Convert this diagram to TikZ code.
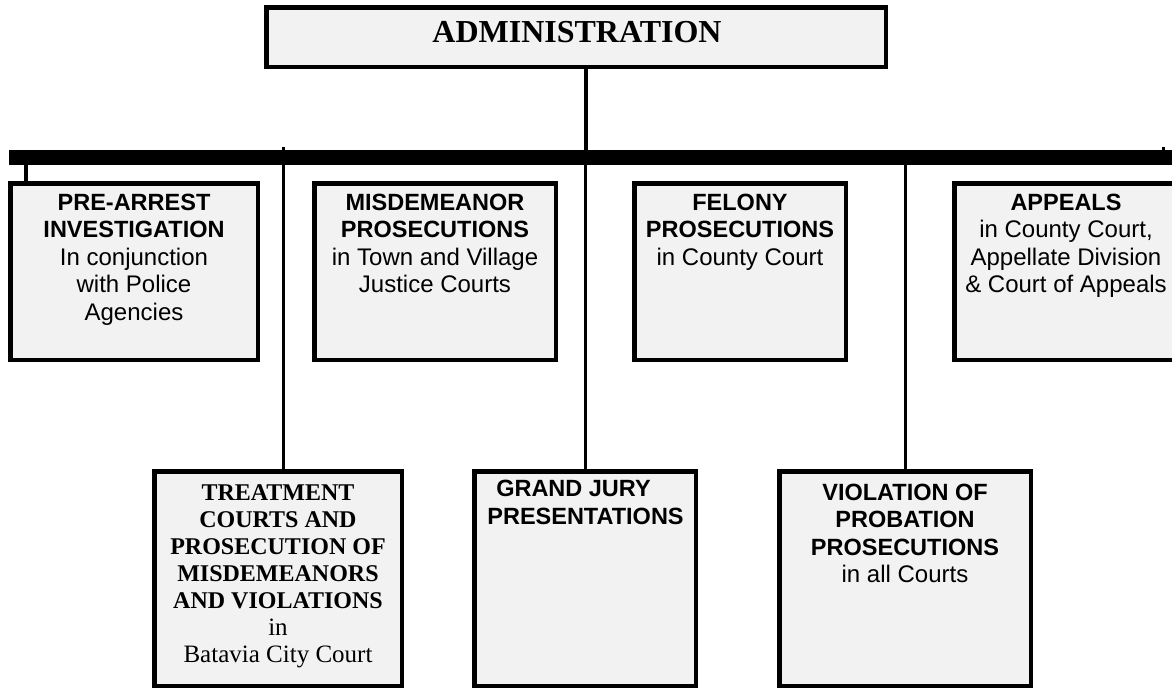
\documentclass[tikz,border=0pt]{standalone}
\usepackage{fontspec}
\setmainfont{Liberation Serif}
\setsansfont{Liberation Sans}
\definecolor{boxgray}{HTML}{F2F2F2}
\begin{document}
\begin{tikzpicture}[x=1pt,y=-1pt,
  box/.style={draw=black,line width=4.5pt,fill=boxgray,rectangle,inner sep=0pt,outer sep=0pt},
  sfb/.style={font=\sffamily\bfseries\fontsize{23.5}{27}\selectfont,anchor=base,inner sep=0pt},
  sfr/.style={font=\sffamily\fontsize{24}{27}\selectfont,anchor=base,inner sep=0pt},
  rmb/.style={font=\rmfamily\bfseries\fontsize{24}{27}\selectfont,anchor=base,inner sep=0pt},
  rmr/.style={font=\rmfamily\fontsize{25}{27}\selectfont,anchor=base,inner sep=0pt},
  conn/.style={line width=3pt},
  thick conn/.style={line width=4.5pt}]
\useasboundingbox (0,0) rectangle (1172,688);
\clip (0,0) rectangle (1172,688);
% boxes
\node[box,minimum width=619.5pt,minimum height=59.5pt] (admin) at (576,37) {};
\node[fill=black,inner sep=0pt,outer sep=0pt,minimum width=1171pt,minimum height=15pt] (bus) at (594.5,157.5) {};
\node[box,minimum width=247.5pt,minimum height=176.5pt] (pre) at (134,271.5) {};
\node[box,minimum width=241.5pt,minimum height=176.5pt] (mis) at (435,271.5) {};
\node[box,minimum width=211.5pt,minimum height=176.5pt] (fel) at (740,271.5) {};
\node[box,minimum width=223.5pt,minimum height=176.5pt] (app) at (1066,271.5) {};
\node[box,minimum width=247.5pt,minimum height=214.5pt] (tre) at (278,578.5) {};
\node[box,minimum width=221.5pt,minimum height=214.5pt] (gj) at (585,578.5) {};
\node[box,minimum width=251.5pt,minimum height=214.5pt] (vio) at (905,578.5) {};
% connector end points
\coordinate (admout) at (586,69);
\coordinate (prein) at (26,181);
\coordinate (ttop) at (283,147);
\coordinate (tin) at (283,469);
\coordinate (stub) at (1163,147);
% connectors
\draw[thick conn] (admout) -- (admout |- bus.north);
\draw[thick conn] (prein) -- (prein |- bus.south);
\draw[conn] (ttop) -- (tin);
\draw[conn] (gj.north |- bus.south) -- (gj.north);
\draw[conn] (vio.north |- bus.south) -- (vio.north);
\draw[conn] (stub) -- (stub |- bus.north);
% texts
\node[font=\rmfamily\bfseries\fontsize{32}{36}\selectfont,anchor=base,inner sep=0pt] (tadm) at (577,42.5) {ADMINISTRATION};
\node[sfb] (p1) at (134,210) {PRE-ARREST};
\node[sfb] (p2) at (134,237.5) {INVESTIGATION};
\node[sfr] (p3) at (134,265) {In conjunction};
\node[sfr] (p4) at (134,292.5) {with Police};
\node[sfr] (p5) at (134,320) {Agencies};
\node[sfb] (m1) at (435,210) {MISDEMEANOR};
\node[sfb] (m2) at (435,237.5) {PROSECUTIONS};
\node[sfr] (m3) at (435,265) {in Town and Village};
\node[sfr] (m4) at (435,292.5) {Justice Courts};
\node[sfb] (f1) at (740,210) {FELONY};
\node[sfb] (f2) at (740,237.5) {PROSECUTIONS};
\node[sfr] (f3) at (740,265) {in County Court};
\node[sfb] (a1) at (1066,210) {APPEALS};
\node[sfr] (a2) at (1066,237.5) {in County Court,};
\node[sfr] (a3) at (1066,265) {Appellate Division};
\node[sfr] (a4) at (1066,292.5) {\& Court of Appeals};
\node[rmb] (r1) at (278,500) {TREATMENT};
\node[rmb] (r2) at (278,527) {COURTS AND};
\node[rmb] (r3) at (278,554) {PROSECUTION OF};
\node[rmb] (r4) at (278,581) {MISDEMEANORS};
\node[rmb] (r5) at (278,608) {AND VIOLATIONS};
\node[rmr] (r6) at (278,635) {in};
\node[rmr] (r7) at (278,662) {Batavia City Court};
\node[sfb] (g1) at (573.5,496) {GRAND JURY};
\node[sfb] (g2) at (585.5,524) {PRESENTATIONS};
\node[sfb] (v1) at (905,500) {VIOLATION OF};
\node[sfb] (v2) at (905,527.5) {PROBATION};
\node[sfb] (v3) at (905,555) {PROSECUTIONS};
\node[sfr] (v4) at (905,582.5) {in all Courts};
\end{tikzpicture}
\end{document}
